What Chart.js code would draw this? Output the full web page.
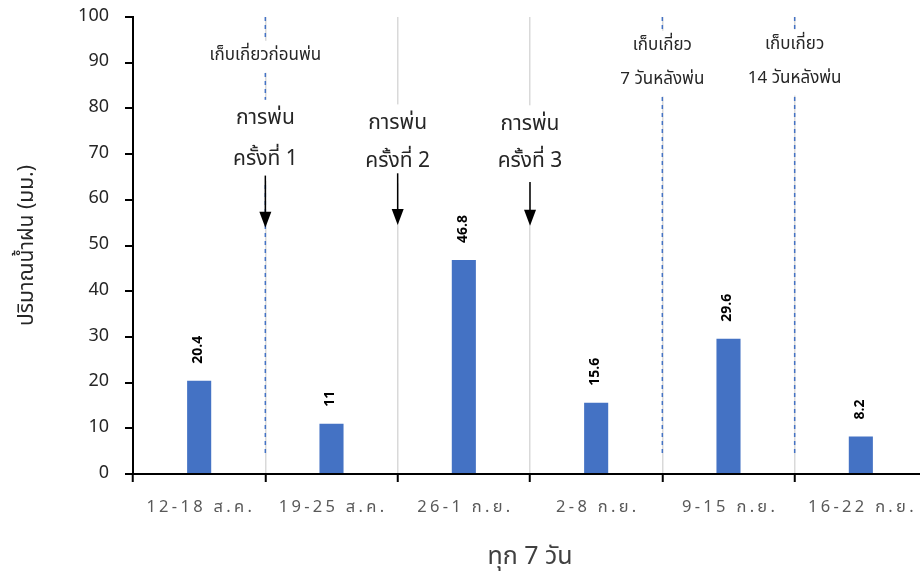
<!DOCTYPE html>
<html lang="th">
<head>
<meta charset="utf-8">
<title>ปริมาณน้ำฝนรายสัปดาห์</title>
<script src="https://cdn.jsdelivr.net/npm/chart.js@4.4.1/dist/chart.umd.min.js"></script>
<style>
  html, body { margin: 0; padding: 0; background: #fff; overflow: hidden; }
  #wrap { position: relative; width: 940px; height: 576px; }
</style>
</head>
<body>
<div id="wrap"><canvas id="chart"></canvas></div>
<script>
// Weekly periods and rainfall totals (mm)
const categories = ['12-18 ส.ค.', '19-25 ส.ค.', '26-1 ก.ย.', '2-8 ก.ย.', '9-15 ก.ย.', '16-22 ก.ย.'];
const rainfall = [20.4, 11, 46.8, 15.6, 29.6, 8.2];

// Y axis range
const yMin = 0;
const yMax = 100;
const yStep = 10;

// Spray events: the boundary after category index, label lines, arrow start/tip (mm)
const sprayAfter = [0, 1, 2];
const sprayLines = [['การพ่น', 'ครั้งที่ 1'], ['การพ่น', 'ครั้งที่ 2'], ['การพ่น', 'ครั้งที่ 3']];
const sprayTextY = [[77.5, 68.5], [76.5, 68], [76.3, 68]];
const arrowFrom = [65.3, 65.8, 63.9];
const arrowTo = [53.9, 54.5, 54.3];

// Harvest events: boundary after category index and label lines
const harvestAfter = [0, 3, 4];
const harvestLines = [['เก็บเกี่ยวก่อนพ่น'], ['เก็บเกี่ยว', '7 วันหลังพ่น'], ['เก็บเกี่ยว', '14 วันหลังพ่น']];
const harvestTextY = [[91.3], [93.5, 86.1], [93.8, 86.3]];

const THAI = "'Noto Sans Thai', Tahoma, 'Noto Sans', 'DejaVu Sans', sans-serif";

function boundaryX(xs, i) {
  return (xs.getPixelForValue(i) + xs.getPixelForValue(i + 1)) / 2;
}

const overlay = {
  id: 'overlay',
  afterDatasetsDraw(chart) {
    const ctx = chart.ctx;
    const xs = chart.scales.x;
    const ys = chart.scales.y;
    const area = chart.chartArea;
    ctx.save();

    // dashed harvest markers
    ctx.strokeStyle = '#4472C4';
    ctx.lineWidth = 1.5;
    ctx.setLineDash([4, 4]);
    harvestAfter.forEach(i => {
      const x = boundaryX(xs, i);
      ctx.beginPath();
      ctx.moveTo(x, area.top);
      ctx.lineTo(x, ys.getPixelForValue(3.7));
      ctx.stroke();
    });
    ctx.setLineDash([]);

    // label helper with white background
    function label(cx, lines, ysVals, font, padX, padY) {
      ctx.font = font;
      ctx.textAlign = 'center';
      ctx.textBaseline = 'middle';
      let w = 0;
      lines.forEach(l => { w = Math.max(w, ctx.measureText(l).width); });
      const py = ysVals.map(v => ys.getPixelForValue(v));
      const top = Math.min(...py) - padY;
      const bottom = Math.max(...py) + padY;
      ctx.fillStyle = '#fff';
      ctx.fillRect(cx - w / 2 - padX, top, w + padX * 2, bottom - top);
      ctx.fillStyle = '#262626';
      lines.forEach((l, k) => ctx.fillText(l, cx, py[k]));
    }

    harvestAfter.forEach((i, k) => {
      label(boundaryX(xs, i), harvestLines[k], harvestTextY[k], '17px ' + THAI, 4, 16);
    });
    sprayAfter.forEach((i, k) => {
      label(boundaryX(xs, i), sprayLines[k], sprayTextY[k], '21px ' + THAI, 6, 20);
    });

    // arrows
    ctx.strokeStyle = '#000';
    ctx.fillStyle = '#000';
    ctx.lineWidth = 1.5;
    sprayAfter.forEach((i, k) => {
      const x = boundaryX(xs, i);
      const y0 = ys.getPixelForValue(arrowFrom[k]);
      const y1 = ys.getPixelForValue(arrowTo[k]);
      ctx.beginPath();
      ctx.moveTo(x, y0);
      ctx.lineTo(x, y1 - 14);
      ctx.stroke();
      ctx.beginPath();
      ctx.moveTo(x - 6, y1 - 16);
      ctx.lineTo(x + 6, y1 - 16);
      ctx.lineTo(x, y1);
      ctx.closePath();
      ctx.fill();
    });

    // value labels, rotated above each bar
    const meta = chart.getDatasetMeta(0);
    ctx.font = 'bold 14px ' + THAI;
    ctx.fillStyle = '#000';
    ctx.textAlign = 'left';
    ctx.textBaseline = 'middle';
    meta.data.forEach((bar, k) => {
      ctx.save();
      ctx.translate(bar.x, bar.y - 17);
      ctx.rotate(-Math.PI / 2);
      ctx.fillText(String(rainfall[k]), 0, 0);
      ctx.restore();
    });

    // category labels and axis title
    ctx.fillStyle = '#595959';
    ctx.font = '16.5px ' + THAI;
    ctx.letterSpacing = '3.3px';
    ctx.textAlign = 'center';
    ctx.textBaseline = 'middle';
    categories.forEach((c, k) => {
      ctx.fillText(c, xs.getPixelForValue(k) + 1.6, area.bottom + 35);
    });
    ctx.letterSpacing = '0px';
    ctx.font = '25px ' + THAI;
    ctx.fillStyle = '#404040';
    ctx.fillText('ทุก 7 วัน', (area.left + area.right) / 2, area.bottom + 85);

    ctx.restore();
  }
};

new Chart(document.getElementById('chart'), {
  type: 'bar',
  data: {
    labels: categories,
    datasets: [{
      data: rainfall,
      backgroundColor: '#4472C4',
      borderWidth: 0,
      categoryPercentage: 1,
      barPercentage: 0.182
    }]
  },
  options: {
    responsive: true,
    maintainAspectRatio: false,
    animation: false,
    events: [],
    layout: { padding: { left: 0, top: 17, right: 13, bottom: 102 } },
    plugins: { legend: { display: false }, tooltip: { enabled: false } },
    scales: {
      x: {
        offset: true,
        grid: {
          offset: true,
          color: '#d9d9d9',
          lineWidth: 1.5,
          drawTicks: true,
          tickLength: 8,
          tickColor: '#000',
          tickWidth: 2
        },
        border: { color: '#000', width: 2 },
        ticks: { display: false },
        afterFit(scale) { scale.height = 0; }
      },
      y: {
        min: yMin,
        max: yMax,
        ticks: {
          stepSize: yStep,
          color: '#262626',
          padding: 16,
          font: { family: THAI, size: 18 }
        },
        grid: {
          drawOnChartArea: false,
          drawTicks: true,
          tickLength: 8,
          color: '#000',
          lineWidth: 2
        },
        border: { color: '#000', width: 2 },
        title: {
          display: true,
          text: 'ปริมาณน้ำฝน (มม.)',
          color: '#262626',
          font: { family: THAI, size: 21 },
          padding: { top: 16, bottom: 0 }
        },
        afterFit(scale) {
          scale.width = 133;
          scale.paddingTop = 0;
          scale.paddingBottom = 0;
        }
      }
    }
  },
  plugins: [overlay]
});
</script>
</body>
</html>
